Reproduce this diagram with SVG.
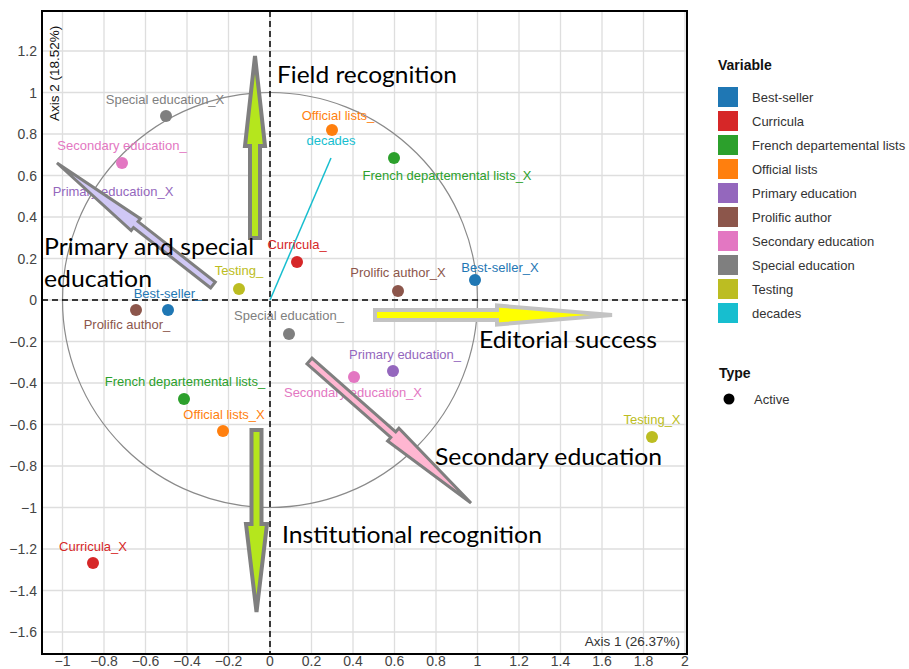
<svg xmlns="http://www.w3.org/2000/svg" width="909" height="669" viewBox="0 0 909 669">
<style>
.grid{stroke:#dedede;stroke-width:1.3;fill:none}
.zero{stroke:#000;stroke-width:1.5;stroke-dasharray:6 4;fill:none}
.tick{font-family:"Liberation Sans",Arial,sans-serif;font-size:14px;fill:#444}
.ty{text-anchor:end}
.tx{text-anchor:middle}
.lab{font-family:"Liberation Sans",Arial,sans-serif;font-size:13px;text-anchor:middle}
.ann{font-family:Lato,"Open Sans",sans-serif;font-size:24px;fill:#000}
.leg{font-family:"Liberation Sans",Arial,sans-serif;font-size:13px;fill:#333}
.legt{font-family:"Liberation Sans",Arial,sans-serif;font-size:14px;font-weight:bold;fill:#111}
.arrow{stroke-linejoin:miter;stroke-miterlimit:4}
.c-bs{fill:#1f77b4}.c-cu{fill:#d62728}.c-fr{fill:#2ca02c}.c-of{fill:#ff7f0e}.c-pr{fill:#9467bd}
.c-pa{fill:#8c564b}.c-se{fill:#e377c2}.c-sp{fill:#7f7f7f}.c-te{fill:#bcbd22}.c-de{fill:#17becf}
</style>
<rect x="0" y="0" width="909" height="669" fill="#fff"/>
<g id="grid">
<path class="grid" d="M62.5 11V654M104 11V654M145.5 11V654M187 11V654M228.5 11V654M270 11V654M311.5 11V654M353 11V654M394.5 11V654M436 11V654M477.5 11V654M519 11V654M560.5 11V654M602 11V654M643.5 11V654M685 11V654"/>
<path class="grid" d="M42 51H687M42 92.5H687M42 134H687M42 175.5H687M42 217H687M42 258.5H687M42 300H687M42 341.5H687M42 383H687M42 424.5H687M42 466H687M42 507.5H687M42 549H687M42 590.5H687M42 632H687"/>
</g>
<circle id="unit-circle" cx="270" cy="300" r="207.5" fill="none" stroke="#8a8a8a" stroke-width="1.2"/>
<path class="zero" d="M270 11V654M42 300H687"/>
<g id="connectors">
<line x1="270" y1="300" x2="331" y2="158" stroke="#17becf" stroke-width="1.5"/>
</g>
<g id="pt-special-x"><circle cx="166" cy="116" r="6" class="c-sp"/><text x="165" y="104" class="lab c-sp">Special education_X</text></g>
<g id="pt-secondary"><circle cx="122" cy="163" r="6" class="c-se"/><text x="122" y="150" class="lab c-se">Secondary education_</text></g>
<g id="pt-primary-x"><text x="113" y="196" class="lab c-pr">Primary education_X</text></g>
<g id="pt-testing"><circle cx="239" cy="289" r="6" class="c-te"/><text x="239" y="275" class="lab c-te">Testing_</text></g>
<g id="pt-bestseller"><circle cx="168" cy="310" r="6" class="c-bs"/><text x="168" y="298" class="lab c-bs">Best-seller_</text></g>
<g id="pt-prolific"><circle cx="136" cy="310" r="6" class="c-pa"/><text x="127" y="329" class="lab c-pa">Prolific author_</text></g>
<g id="pt-curricula"><circle cx="297" cy="262" r="6" class="c-cu"/><text x="297" y="249" class="lab c-cu">Curricula_</text></g>
<g id="pt-official"><circle cx="332" cy="130" r="6" class="c-of"/><text x="338" y="120" class="lab c-of">Official lists_</text></g>
<g id="pt-decades"><text x="331" y="145" class="lab c-de">decades</text></g>
<g id="pt-french-x"><circle cx="394" cy="158" r="6" class="c-fr"/><text x="447" y="180" class="lab c-fr">French departemental lists_X</text></g>
<g id="pt-prolific-x"><circle cx="398" cy="291" r="6" class="c-pa"/><text x="398" y="277" class="lab c-pa">Prolific author_X</text></g>
<g id="pt-bestseller-x"><circle cx="475" cy="280" r="6" class="c-bs"/><text x="500" y="272" class="lab c-bs">Best-seller_X</text></g>
<g id="pt-special"><circle cx="289" cy="334" r="6" class="c-sp"/><text x="289" y="320" class="lab c-sp">Special education_</text></g>
<g id="pt-primary"><circle cx="393" cy="371" r="6" class="c-pr"/><text x="405" y="359" class="lab c-pr">Primary education_</text></g>
<g id="pt-secondary-x"><circle cx="354" cy="377" r="6" class="c-se"/><text x="353" y="397" class="lab c-se">Secondary education_X</text></g>
<g id="pt-french"><circle cx="184" cy="399" r="6" class="c-fr"/><text x="185" y="386" class="lab c-fr">French departemental lists_</text></g>
<g id="pt-official-x"><circle cx="223" cy="431" r="6" class="c-of"/><text x="224" y="419" class="lab c-of">Official lists_X</text></g>
<g id="pt-curricula-x"><circle cx="93" cy="563" r="6" class="c-cu"/><text x="93" y="551" class="lab c-cu">Curricula_X</text></g>
<g id="pt-testing-x"><circle cx="652" cy="437" r="6" class="c-te"/><text x="652" y="424" class="lab c-te">Testing_X</text></g>
<g id="arrows">
<polygon id="arrow-up" class="arrow" points="250,238 250,146 245,146 255,56 265,146 260,146 260,238" fill="#b5e61d" stroke="#7f7f7f" stroke-width="4"/>
<polygon id="arrow-down" class="arrow" points="251.5,430 261.5,430 261.5,524 267,524 256.5,612 246,524 251.5,524" fill="#b5e61d" stroke="#7f7f7f" stroke-width="4"/>
<polygon id="arrow-right" class="arrow" points="375,310 497,310 497,305.5 612,315 497,324.5 497,320 375,320" fill="#ffff00" stroke="#c3c3c3" stroke-width="4"/>
<polygon id="arrow-primary" class="arrow" points="210.7,288 133.5,227.6 131.2,230.5 57,163 140.4,218.7 138.1,221.6 215.3,282" fill="#d0c8f5" stroke="#7f7f7f" stroke-width="3"/>
<polygon id="arrow-secondary" class="arrow" points="307,363.8 390.8,437.4 387.6,441 471,503 398.9,428.2 395.7,431.8 312,358.2" fill="#ffb6d1" stroke="#7f7f7f" stroke-width="3"/>
</g>
<g id="annotations">
<text class="ann" x="277" y="83" textLength="180" lengthAdjust="spacingAndGlyphs">Field recognition</text>
<text class="ann" x="479" y="348" textLength="178" lengthAdjust="spacingAndGlyphs">Editorial success</text>
<text class="ann" x="435" y="465" textLength="227" lengthAdjust="spacingAndGlyphs">Secondary education</text>
<text class="ann" x="282" y="543" textLength="260" lengthAdjust="spacingAndGlyphs">Institutional recognition</text>
<text class="ann" x="44" y="255" textLength="210" lengthAdjust="spacingAndGlyphs">Primary and special</text>
<text class="ann" x="44" y="287" textLength="108" lengthAdjust="spacingAndGlyphs">education</text>
</g>
<rect id="panel-border" x="42" y="11" width="645" height="643" fill="none" stroke="#000" stroke-width="2"/>
<g id="y-ticks" class="tick ty">
<text x="37" y="56">1.2</text><text x="37" y="97.5">1</text><text x="37" y="139">0.8</text><text x="37" y="180.5">0.6</text><text x="37" y="222">0.4</text><text x="37" y="263.5">0.2</text><text x="37" y="305">0</text><text x="37" y="346.5">−0.2</text><text x="37" y="388">−0.4</text><text x="37" y="429.5">−0.6</text><text x="37" y="471">−0.8</text><text x="37" y="512.5">−1</text><text x="37" y="554">−1.2</text><text x="37" y="595.5">−1.4</text><text x="37" y="637">−1.6</text>
</g>
<g id="x-ticks" class="tick tx">
<text x="62.5" y="665.5">−1</text><text x="104" y="665.5">−0.8</text><text x="145.5" y="665.5">−0.6</text><text x="187" y="665.5">−0.4</text><text x="228.5" y="665.5">−0.2</text><text x="270" y="665.5">0</text><text x="311.5" y="665.5">0.2</text><text x="353" y="665.5">0.4</text><text x="394.5" y="665.5">0.6</text><text x="436" y="665.5">0.8</text><text x="477.5" y="665.5">1</text><text x="519" y="665.5">1.2</text><text x="560.5" y="665.5">1.4</text><text x="602" y="665.5">1.6</text><text x="643.5" y="665.5">1.8</text><text x="685" y="665.5">2</text>
</g>
<text id="axis2-title" transform="translate(59,121) rotate(-90)" font-family="Liberation Sans, Arial, sans-serif" font-size="13.5" fill="#111">Axis 2 (18.52%)</text>
<text id="axis1-title" x="680" y="646" text-anchor="end" font-family="Liberation Sans, Arial, sans-serif" font-size="13.5" fill="#333">Axis 1 (26.37%)</text>
<g id="legend">
<text class="legt" x="718" y="70">Variable</text>
<rect x="718" y="87" width="20" height="20" class="c-bs"/><text class="leg" x="752" y="102">Best-seller</text>
<rect x="718" y="111" width="20" height="20" class="c-cu"/><text class="leg" x="752" y="126">Curricula</text>
<rect x="718" y="135" width="20" height="20" class="c-fr"/><text class="leg" x="752" y="150">French departemental lists</text>
<rect x="718" y="159" width="20" height="20" class="c-of"/><text class="leg" x="752" y="174">Official lists</text>
<rect x="718" y="183" width="20" height="20" class="c-pr"/><text class="leg" x="752" y="198">Primary education</text>
<rect x="718" y="207" width="20" height="20" class="c-pa"/><text class="leg" x="752" y="222">Prolific author</text>
<rect x="718" y="231" width="20" height="20" class="c-se"/><text class="leg" x="752" y="246">Secondary education</text>
<rect x="718" y="255" width="20" height="20" class="c-sp"/><text class="leg" x="752" y="270">Special education</text>
<rect x="718" y="279" width="20" height="20" class="c-te"/><text class="leg" x="752" y="294">Testing</text>
<rect x="718" y="303" width="20" height="20" class="c-de"/><text class="leg" x="752" y="318">decades</text>
<text class="legt" x="719" y="378">Type</text>
<circle cx="729" cy="399" r="5.5" fill="#000"/><text class="leg" x="754" y="404">Active</text>
</g>
</svg>
